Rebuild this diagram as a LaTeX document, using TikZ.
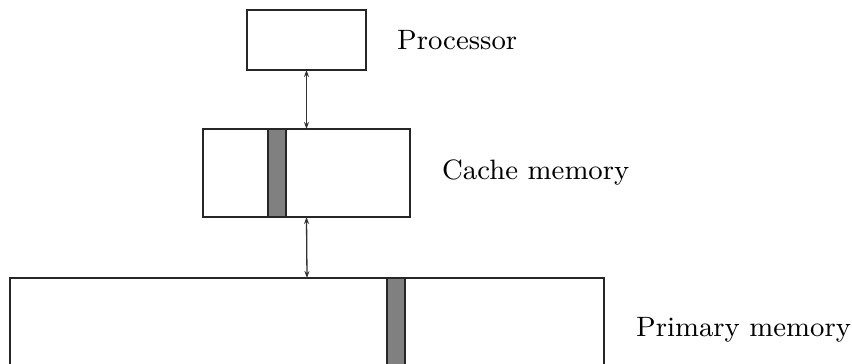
\documentclass[tikz,border=0pt]{standalone}
\usepackage{fontspec}
\newfontfamily\lmnine{lmroman9-regular.otf}
\usetikzlibrary{arrows.meta}
\begin{document}
\begin{tikzpicture}[x=1pt,y=-1pt,
  box/.style={draw=black!85,line width=1.3pt,fill=white,inner sep=0pt,outer sep=0pt},
  bar/.style={draw=black!85,line width=1.3pt,fill=black!50,inner sep=0pt,outer sep=0pt},
  lbl/.style={anchor=west,inner sep=0pt,font=\lmnine\fontsize{28}{34}\selectfont},
  link/.style={line width=1.3pt,draw=black!80,{Stealth[length=7pt,width=5pt]}-{Stealth[length=7pt,width=5pt]}}]
\useasboundingbox (0,0) rectangle (852,364);
\clip (0,0) rectangle (852,364);
\node[box,minimum width=119pt,minimum height=60pt] (proc) at (306.5,40) {};
\node[box,minimum width=207pt,minimum height=88pt] (cache) at (306.5,173) {};
\node[bar,minimum width=18pt,minimum height=88pt] (cbar) at (277,173) {};
\node[box,minimum width=594pt,minimum height=140pt] (prim) at (307,348) {};
\node[bar,minimum width=18pt,minimum height=140pt] (pbar) at (396,348) {};
\node[lbl] (tproc) at (397,40) {Processor};
\node[lbl] (tcache) at (442,172) {Cache memory};
\node[lbl] (tprim) at (636,330) {Primary memory};
\draw[link] (proc.south) -- (cache.north);
\draw[link] (cache.south) -- (prim.north);
\end{tikzpicture}
\end{document}
